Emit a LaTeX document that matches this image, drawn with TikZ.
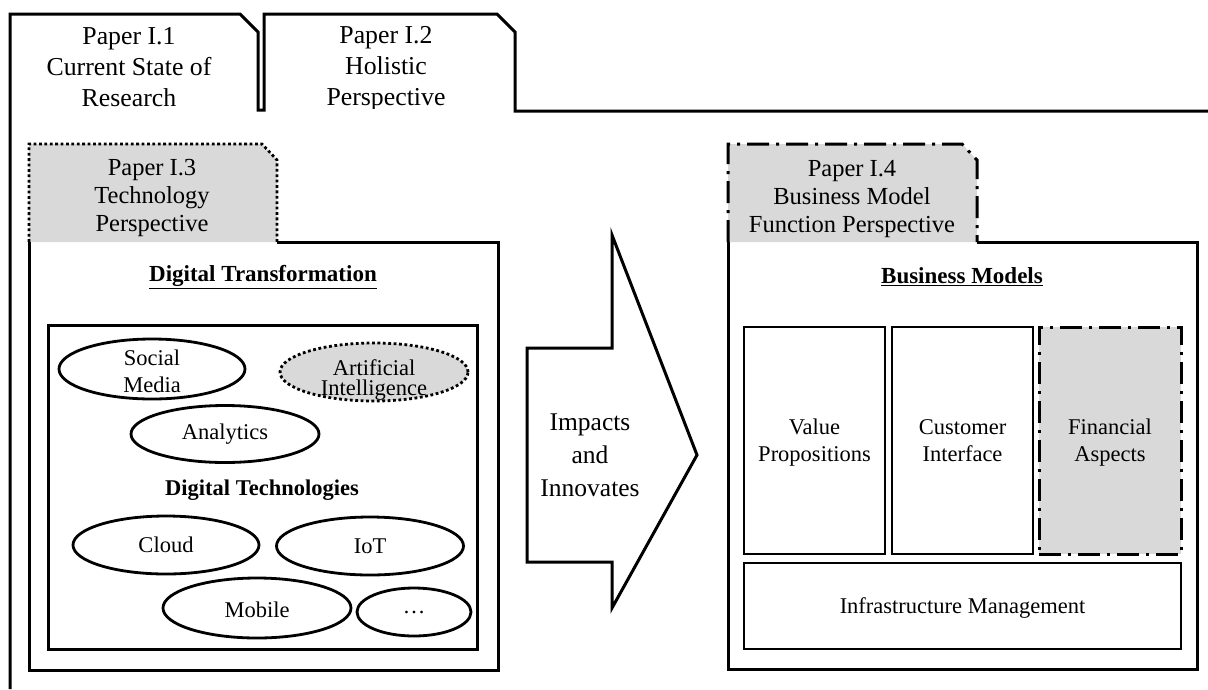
\documentclass[tikz,border=0pt]{standalone}
\usepackage{fontspec}
\setmainfont{Liberation Serif}
\usetikzlibrary{shapes.geometric}
\definecolor{tabgray}{RGB}{217,217,217}
\tikzset{
  frameline/.style={line width=3pt, line join=miter},
  dotline/.style={line width=2.8pt, dash pattern=on 2.8pt off 2.6pt},
  dashdotline/.style={line width=3pt, dash pattern=on 22pt off 7pt on 3pt off 7pt},
  tabtext/.style={align=center, inner sep=0pt, font=\fontsize{25.8}{31}\selectfont},
  subtabtext/.style={align=center, inner sep=0pt, font=\fontsize{24.5}{28}\selectfont},
  headtext/.style={inner sep=0pt, font=\fontsize{23}{27}\selectfont\bfseries},
  techtext/.style={align=center, inner sep=0pt, font=\fontsize{22.5}{27}\selectfont},
  panel/.style={draw, frameline, inner sep=0pt},
  tech/.style={ellipse, draw, line width=2.8pt, inner sep=0pt},
  block/.style={rectangle, draw, line width=2.8pt, inner sep=0pt, align=center,
    text depth=0pt, font=\fontsize{22.5}{27}\selectfont},
  arrowtext/.style={align=center, inner sep=0pt, font=\fontsize{25.5}{33}\selectfont}
}
\begin{document}
\begin{tikzpicture}[x=1pt,y=-1pt]
\useasboundingbox (0,0) rectangle (1208,689);

% folder tabs of the two overview papers and the outer frame
\draw[frameline] (10,689) -- (10,14) -- (240,14) -- (258,32) -- (258,110)
  -- (264,110) -- (264,14) -- (497,14) -- (515,32) -- (515,111) -- (1208,111);
\node[tabtext] (p1) at (129,67) {Paper I.1\\Current State of\\Research};
\begin{scope}
  \clip (264,14) rectangle (515,108);
  \node[tabtext] (p2) at (386,69) {Paper I.2\\Holistic\\Perspective};
\end{scope}

% technology panel
\fill[tabgray] (29,242) -- (29,144) -- (262,144) -- (277,160) -- (277,242) -- cycle;
\draw[dotline] (29,242) -- (29,144) -- (262,144) -- (277,160) -- (277,242);
\node[subtabtext] (p3) at (152,198) {Paper I.3\\Technology\\Perspective};
\draw[frameline] (277,242) -- (498,242) -- (498,670) -- (29,670) -- (29,242);
\node[headtext] (dt) at (263,277) {\underline{Digital Transformation}};

\node[panel, minimum width=429pt, minimum height=324pt] (techbox) at (262.5,487) {};
\node[tech, minimum width=186pt, minimum height=60pt,
  label={[techtext, yshift=-2pt]center:{Social\\Media}}] (social) at (152,369) {};
\node[tech, dotline, fill=tabgray, minimum width=188pt, minimum height=58pt,
  label={[techtext, font=\fontsize{22.5}{20}\selectfont, yshift=-8pt]center:{Artificial\\Intelligence}}] (ai) at (374,372) {};
\node[tech, minimum width=188pt, minimum height=57pt,
  label={[techtext]center:Analytics}] (analytics) at (225,434) {};
\node[headtext, font=\fontsize{22.5}{27}\selectfont\bfseries] (dtech) at (262,490) {Digital Technologies};
\node[tech, minimum width=186pt, minimum height=58pt,
  label={[techtext]center:Cloud}] (cloud) at (166,545) {};
\node[tech, minimum width=187pt, minimum height=58pt,
  label={[techtext]center:IoT}] (iot) at (370,546) {};
\node[tech, minimum width=188pt, minimum height=60pt,
  label={[techtext, yshift=-2pt]center:Mobile}] (mobile) at (257,608) {};
\node[tech, minimum width=114pt, minimum height=48pt,
  label={[techtext]center:…}] (more) at (414,612) {};

% block arrow
\draw[frameline] (527,348) -- (612,348) -- (612,235) -- (697,455) -- (612,608)
  -- (612,562) -- (527,562) -- cycle;
\node[arrowtext] (impact) at (590,455) {Impacts\\and\\Innovates};

% business model panel
\fill[tabgray] (728,242) -- (728,144) -- (962,144) -- (977,160) -- (977,242) -- cycle;
\draw[dashdotline] (728,242) -- (728,144) -- (962,144) -- (977,160) -- (977,242);
\node[subtabtext] (p4) at (852,199) {Paper I.4\\Business Model\\Function Perspective};
\draw[frameline] (977,242) -- (1197,242) -- (1197,669) -- (728,669) -- (728,242);
\node[headtext] (bm) at (962,277) {\underline{Business Models}};

\node[block, minimum width=141pt, minimum height=227pt] (vp) at (814.5,440.5) {Value\\Propositions};
\node[block, minimum width=141pt, minimum height=227pt] (ci) at (962.5,440.5) {Customer\\Interface};
\node[block, dashdotline, fill=tabgray, minimum width=142pt, minimum height=227pt] (fa) at (1110,440.5) {Financial\\Aspects};
\node[block, minimum width=437pt, minimum height=86pt] (im) at (962.5,606) {Infrastructure Management};
\end{tikzpicture}
\end{document}
